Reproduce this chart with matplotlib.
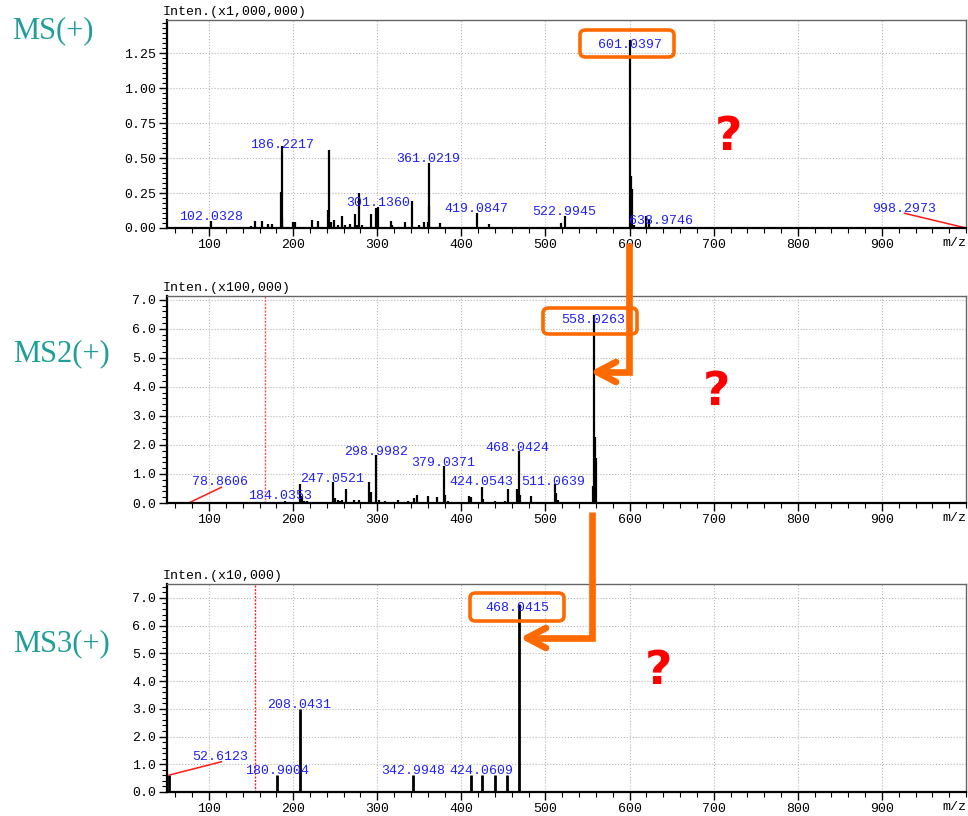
import numpy as np
import matplotlib
matplotlib.use('Agg')
import matplotlib.pyplot as plt
from matplotlib.lines import Line2D
from matplotlib.patches import FancyBboxPatch
from matplotlib.ticker import MultipleLocator, FormatStrFormatter

# ---- data ----
# MS(+), intensity in x1,000,000
ms1_mz = [102.0, 120, 133, 140, 150, 155, 163, 170, 175, 185, 186.2, 187, 190,
          200, 202, 210, 215, 222, 229, 235, 241, 243, 245, 249, 253, 258, 262,
          268, 273, 276, 278, 282, 292, 299, 301.1, 310, 316, 318, 333, 341,
          350, 356, 360, 361.0, 362, 370, 375, 385, 405, 419.1, 433, 447, 460,
          480, 500, 518, 523.0, 560, 580, 590, 601.0, 602, 603, 605, 620, 623,
          639.0, 998.3]
ms1_int = [0.05, 0.01, 0.01, 0.01, 0.015, 0.05, 0.05, 0.03, 0.03, 0.26, 0.586,
           0.074, 0.01, 0.04, 0.04, 0.01, 0.01, 0.055, 0.05, 0.01, 0.126, 0.56,
           0.04, 0.06, 0.02, 0.083, 0.02, 0.03, 0.10, 0.02, 0.25, 0.02, 0.098,
           0.14, 0.15, 0.01, 0.05, 0.02, 0.04, 0.19, 0.02, 0.04, 0.04, 0.464,
           0.157, 0.01, 0.035, 0.01, 0.01, 0.107, 0.026, 0.01, 0.01, 0.01, 0.01,
           0.035, 0.083, 0.01, 0.01, 0.01, 1.34, 0.37, 0.28, 0.02, 0.086, 0.055,
           0.005, 0.003]
ms1_labels = ['102.0328', '186.2217', '301.1360', '361.0219', '419.0847',
              '522.9945', '601.0397', '638.9746', '998.2973']
ms1_lab_x = [102, 186.6, 301, 361, 418, 522, 601, 637, 926]
ms1_lab_y = [0.081, 0.593, 0.176, 0.493, 0.136, 0.114, 1.31, 0.05, 0.134]

# MS2(+), intensity in x100,000
ms2_mz = [78.9, 184.0, 190, 208, 210, 213, 216, 219, 235, 237, 245, 247.1, 250,
          253, 256, 258, 263, 272, 278, 290, 292, 299.0, 302, 309, 325, 337,
          344, 347, 360, 371, 379.0, 381, 384, 409, 411, 424.1, 426, 440, 452,
          455, 466, 468.0, 470, 483, 511.1, 513, 515, 540, 556, 558.0, 559, 560,
          565, 575]
ms2_int = [0.03, 0.02, 0.06, 0.66, 0.23, 0.08, 0.06, 0.05, 0.05, 0.05, 0.05,
           0.74, 0.17, 0.1, 0.08, 0.1, 0.48, 0.11, 0.09, 0.74, 0.37, 1.65, 0.09,
           0.06, 0.11, 0.08, 0.17, 0.29, 0.25, 0.19, 1.26, 0.29, 0.06, 0.25,
           0.19, 0.55, 0.14, 0.06, 0.06, 0.48, 0.48, 1.8, 0.29, 0.25, 0.66, 0.34,
           0.11, 0.05, 0.6, 6.49, 2.29, 1.54, 0.05, 0.04]
ms2_labels = ['78.8606', '184.0353', '247.0521', '298.9982', '379.0371',
              '424.0543', '468.0424', '511.0639', '558.0263']
ms2_lab_x = [113.4, 183.8, 246.2, 298.8, 378.5, 423.3, 466.8, 509, 557]
ms2_lab_y = [0.72, 0.23, 0.835, 1.75, 1.37, 0.71, 1.89, 0.74, 6.29]

# MS3(+), intensity in x10,000
ms3_mz = [52.6, 180.9, 208.0, 343.0, 411, 424.1, 440, 454, 468.0]
ms3_int = [0.61, 0.61, 2.99, 0.61, 0.61, 0.61, 0.61, 0.61, 6.77]
ms3_labels = ['52.6123', '180.9004', '208.0431', '342.9948', '424.0609', '468.0415']
ms3_lab_x = [113.2, 180.4, 207.3, 342.3, 423.3, 466.9]
ms3_lab_y = [1.27, 0.77, 3.13, 0.77, 0.77, 6.62]

W, H = 968, 816
MONO = 'Liberation Mono'
ORANGE = '#ff6a00'
TEAL = '#1f9e9a'


def fx(x):
    return x / W


def fy(y):
    return 1 - y / H


fig = plt.figure(figsize=(W / 100, H / 100), dpi=100)


def make_axes(top, bottom, ymax, ymajor, yminor, yfmt, scale):
    ax = fig.add_axes([fx(167), fy(bottom), (966 - 167) / W, (bottom - top) / H])
    ax.set_xlim(50, 1000)
    ax.set_ylim(0, ymax)
    ax.xaxis.set_minor_locator(MultipleLocator(20))
    ax.yaxis.set_major_locator(MultipleLocator(ymajor))
    ax.yaxis.set_minor_locator(MultipleLocator(yminor))
    ax.yaxis.set_major_formatter(FormatStrFormatter(yfmt))
    ax.set_xticks(range(100, 1000, 100))
    ax.tick_params(which='major', length=6, width=1, labelsize=9.5, pad=2)
    ax.tick_params(which='minor', length=3.5, width=0.8)
    for lab in ax.get_xticklabels() + ax.get_yticklabels():
        lab.set_family(MONO)
    ax.grid(True, which='major', color='#b8b8b8', linestyle=':', linewidth=0.8)
    ax.set_axisbelow(True)
    for s in ('top', 'right'):
        ax.spines[s].set_color('#666666')
        ax.spines[s].set_linewidth(1)
    for s in ('bottom', 'left'):
        ax.spines[s].set_linewidth(1.6)
    ax.text(-0.006, 1.008, 'Inten.(x%s)' % scale, transform=ax.transAxes,
            ha='left', va='bottom', fontsize=9.5, family=MONO)
    ax.text(1.0, -0.045, 'm/z', transform=ax.transAxes, ha='right', va='top',
            fontsize=9.5, family=MONO)
    return ax


def draw_labels(ax, labels, xs, ys):
    for t, x, y in zip(labels, xs, ys):
        ax.text(x, y, t, color='#1f1fff', fontsize=9.5, family=MONO,
                ha='center', va='center', zorder=5)


# MS(+)
ax1 = make_axes(20, 228, 1.486, 0.25, 0.25 / 7, '%.2f', '1,000,000')
ax1.vlines(ms1_mz, 0, ms1_int, color='black', lw=1.6)
draw_labels(ax1, ms1_labels, ms1_lab_x, ms1_lab_y)
ax1.plot([927, 1000], [0.105, 0.0], color='#ff1a1a', lw=1.1, clip_on=False)

# MS2(+)
ax2 = make_axes(296, 503, 7.13, 1.0, 0.2, '%.1f', '100,000')
ax2.axvline(166.9, color='#ff5050', lw=1, linestyle=(0, (1.5, 1)))
ax2.vlines(ms2_mz, 0, ms2_int, color='black', lw=1.6)
draw_labels(ax2, ms2_labels, ms2_lab_x, ms2_lab_y)
ax2.plot([77.9, 114.6], [0.03, 0.54], color='#ff1a1a', lw=1.1)

# MS3(+)
ax3 = make_axes(584, 792, 7.5, 1.0, 0.2, '%.1f', '10,000')
ax3.axvline(154.6, color='#ff2020', lw=1, linestyle=(0, (1.5, 1)))
ax3.vlines(ms3_mz, 0, ms3_int, color='black', lw=2)
draw_labels(ax3, ms3_labels, ms3_lab_x, ms3_lab_y)
ax3.plot([52.6, 114.6], [0.61, 1.09], color='#ff1a1a', lw=1.1)

# side titles
for txt, x, y in [('MS(+)', 53, 31), ('MS2(+)', 61, 354), ('MS3(+)', 61, 644)]:
    fig.text(fx(x), fy(y), txt, color=TEAL, fontsize=22, family='Liberation Serif',
             ha='center', va='center')

# question marks
for x, y in [(729, 138), (717, 392), (658, 672)]:
    fig.text(fx(x), fy(y), '?', color='#ff0000', fontsize=34, fontweight='bold',
             family='DejaVu Sans', ha='center', va='center')

# orange highlight boxes
for x0, y0, x1, y1 in [(580, 30, 674, 57), (543, 308, 637, 334), (470, 593, 564, 621)]:
    box = FancyBboxPatch((fx(x0), fy(y1)), fx(x1 - x0), (y1 - y0) / H,
                         boxstyle='round,pad=0,rounding_size=0.006',
                         transform=fig.transFigure, facecolor='none',
                         edgecolor=ORANGE, lw=2.6, zorder=10)
    fig.add_artist(box)


# orange elbow arrows
def elbow_arrow(x, y_start, y_turn, x_tip):
    pts_x = [x, x, x_tip + 3]
    pts_y = [y_start, y_turn, y_turn]
    fig.add_artist(Line2D([fx(p) for p in pts_x], [fy(p) for p in pts_y],
                          color=ORANGE, lw=4.8, solid_joinstyle='miter',
                          solid_capstyle='butt', transform=fig.transFigure, zorder=11))
    for dy in (-10, 10):
        fig.add_artist(Line2D([fx(x_tip + 19), fx(x_tip)], [fy(y_turn + dy), fy(y_turn)],
                              color=ORANGE, lw=4.8, solid_capstyle='round',
                              transform=fig.transFigure, zorder=11))


elbow_arrow(629, 243, 372, 597)
elbow_arrow(592, 512, 638, 527)

fig.savefig('out.png', dpi=100)
